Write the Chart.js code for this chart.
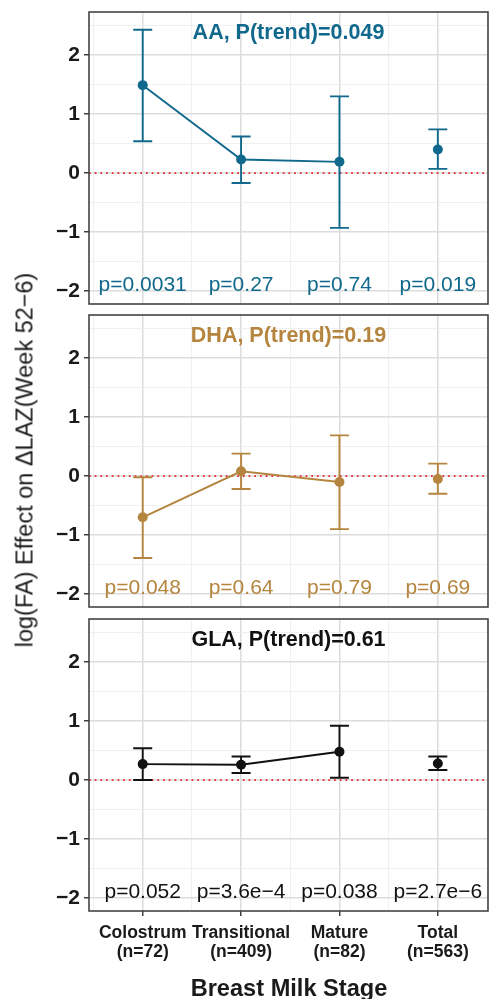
<!DOCTYPE html>
<html>
<head>
<meta charset="utf-8">
<script src="https://cdn.jsdelivr.net/npm/chart.js@4"></script>
<style>
  body { margin: 0; background: #fff; width: 489px; height: 999px; overflow: hidden; position: relative; font-family: "Liberation Sans", Arial, Helvetica, sans-serif; }
  canvas { position: absolute; left: 0; }
  .ytitle { position: absolute; left: 25px; top: 460px; transform: translate(-50%, -50%) rotate(-90deg); white-space: nowrap; font-size: 23.5px; color: #1a1a1a; }
  .xtitle { position: absolute; left: 289px; top: 988px; transform: translate(-50%, -50%); white-space: nowrap; font-size: 23.6px; font-weight: bold; color: #1a1a1a; }
</style>
</head>
<body>
<canvas id="p1" width="489" height="306" style="top:0px"></canvas>
<canvas id="p2" width="489" height="304" style="top:305px"></canvas>
<canvas id="p3" width="489" height="390" style="top:609px"></canvas>
<div class="ytitle">log(FA) Effect on ΔLAZ(Week 52−6)</div>
<div class="xtitle">Breast Milk Stage</div>
<script>
// categories and tick labels
const stages = ['Colostrum', 'Transitional', 'Mature', 'Total'];
const stageN = ['(n=72)', '(n=409)', '(n=82)', '(n=563)'];
const yTicks = [-2, -1, 0, 1, 2];

// AA
const aaEst = [1.49, 0.23, 0.19, 0.40];
const aaLow = [0.54, -0.17, -0.93, 0.07];
const aaHigh = [2.43, 0.62, 1.30, 0.74];
const aaP = ['p=0.0031', 'p=0.27', 'p=0.74', 'p=0.019'];

// DHA
const dhaEst = [-0.70, 0.08, -0.10, -0.05];
const dhaLow = [-1.39, -0.22, -0.90, -0.30];
const dhaHigh = [-0.02, 0.38, 0.69, 0.21];
const dhaP = ['p=0.048', 'p=0.64', 'p=0.79', 'p=0.69'];

// GLA
const glaEst = [0.27, 0.26, 0.48, 0.28];
const glaLow = [0.00, 0.12, 0.04, 0.17];
const glaHigh = [0.54, 0.40, 0.92, 0.40];
const glaP = ['p=0.052', 'p=3.6e\u22124', 'p=0.038', 'p=2.7e\u22126'];

const FONT = '"Liberation Sans", Arial, Helvetica, sans-serif';

// error bars, zero line, border and panel texts
const panelPlugin = {
    id: 'panel',
    beforeDatasetsDraw(chart) {
        const o = chart.options.plugins.panel;
        const { ctx, chartArea: a, scales: { x, y } } = chart;
        ctx.save();
        // dotted zero line
        ctx.strokeStyle = '#e8202a';
        ctx.lineWidth = 1.7;
        ctx.setLineDash([1.7, 4]);
        ctx.beginPath();
        ctx.moveTo(a.left, y.getPixelForValue(0));
        ctx.lineTo(a.right, y.getPixelForValue(0));
        ctx.stroke();
        ctx.setLineDash([]);
        // error bars
        ctx.strokeStyle = o.color;
        ctx.lineWidth = 1.9;
        for (let i = 0; i < stages.length; i++) {
            const px = x.getPixelForValue(i + 1);
            const lo = y.getPixelForValue(o.low[i]);
            const hi = y.getPixelForValue(o.high[i]);
            ctx.beginPath();
            ctx.moveTo(px, lo); ctx.lineTo(px, hi);
            ctx.moveTo(px - 9.5, lo); ctx.lineTo(px + 9.5, lo);
            ctx.moveTo(px - 9.5, hi); ctx.lineTo(px + 9.5, hi);
            ctx.stroke();
        }
        ctx.restore();
    },
    afterDraw(chart) {
        const o = chart.options.plugins.panel;
        const { ctx, chartArea: a, scales: { x, y } } = chart;
        ctx.save();
        ctx.strokeStyle = '#444';
        ctx.lineWidth = 1.6;
        ctx.strokeRect(a.left, a.top, a.right - a.left, a.bottom - a.top);
        ctx.fillStyle = o.color;
        ctx.textAlign = 'center';
        ctx.textBaseline = 'middle';
        ctx.font = 'bold 21.5px ' + FONT;
        ctx.fillText(o.title, (a.left + a.right) / 2, y.getPixelForValue(2.37));
        ctx.font = '21px ' + FONT;
        for (let i = 0; i < stages.length; i++) {
            ctx.fillText(o.p[i], x.getPixelForValue(i + 1), y.getPixelForValue(-1.9));
        }
        ctx.restore();
    }
};

function minus(v) {
    return v < 0 ? '\u2212' + (-v) : String(v);
}

function isMajor(c) {
    return c.tick && Number.isInteger(c.tick.value);
}

function makePanel(id, color, title, est, low, high, p, bottom) {
    const ticksY = [];
    for (let v = -2; v <= 2.5; v += 0.5) ticksY.push(v);
    return new Chart(document.getElementById(id), {
        type: 'scatter',
        data: {
            datasets: [{
                data: [0, 1, 2].map(i => ({ x: i + 1, y: est[i] })),
                showLine: true,
                borderColor: color,
                backgroundColor: color,
                borderWidth: 1.9,
                pointRadius: 5,
                pointBorderWidth: 0
            }, {
                data: [{ x: 4, y: est[3] }],
                showLine: false,
                backgroundColor: color,
                borderColor: color,
                pointRadius: 5,
                pointBorderWidth: 0
            }]
        },
        options: {
            responsive: false,
            animation: false,
            devicePixelRatio: 1,
            layout: {
                autoPadding: false,
                padding: { top: bottom ? 10 : (id === 'p1' ? 12 : 10), bottom: bottom ? 0 : 2, left: 0, right: 1 }
            },
            plugins: {
                legend: { display: false },
                tooltip: { enabled: false },
                panel: { color, title, low, high, p }
            },
            scales: {
                x: {
                    type: 'linear',
                    min: 0.454,
                    max: 4.51,
                    afterBuildTicks: s => { s.ticks = [0.5, 1, 1.5, 2, 2.5, 3, 3.5, 4, 4.5].map(v => ({ value: v })); },
                    afterFit: s => {
                        s.height = bottom ? 88 : 0;
                        s.paddingLeft = 0; s.paddingRight = 0;
                    },
                    border: { display: false },
                    grid: {
                        drawTicks: bottom,
                        tickLength: 5,
                        color: c => isMajor(c) ? '#dcdcdc' : '#ececec',
                        lineWidth: c => isMajor(c) ? 1.5 : 0.8,
                        tickColor: c => isMajor(c) ? '#333' : 'rgba(0,0,0,0)',
                        tickWidth: 1.4
                    },
                    ticks: {
                        display: bottom,
                        autoSkip: false,
                        maxRotation: 0,
                        padding: 7,
                        color: '#1a1a1a',
                        font: { family: FONT, size: 17.5, weight: 'bold', lineHeight: 1.12 },
                        callback: v => Number.isInteger(v) ? [stages[v - 1], stageN[v - 1]] : ''
                    }
                },
                y: {
                    min: -2.22,
                    max: 2.73,
                    afterBuildTicks: s => { s.ticks = ticksY.map(v => ({ value: v })); },
                    afterFit: s => {
                        s.width = 89;
                        s.paddingTop = 0; s.paddingBottom = 0;
                    },
                    border: { display: false },
                    grid: {
                        tickLength: 5,
                        color: c => isMajor(c) ? '#dcdcdc' : '#ececec',
                        lineWidth: c => isMajor(c) ? 1.5 : 0.8,
                        tickColor: c => (c.tick && yTicks.includes(c.tick.value)) ? '#333' : 'rgba(0,0,0,0)',
                        tickWidth: 1.4
                    },
                    ticks: {
                        autoSkip: false,
                        padding: 4,
                        color: '#1a1a1a',
                        font: { family: FONT, size: 21, weight: 'bold' },
                        callback: v => yTicks.includes(v) ? minus(v) : ''
                    }
                }
            }
        },
        plugins: [panelPlugin]
    });
}

makePanel('p1', '#10698c', 'AA, P(trend)=0.049', aaEst, aaLow, aaHigh, aaP, false);
makePanel('p2', '#b5853f', 'DHA, P(trend)=0.19', dhaEst, dhaLow, dhaHigh, dhaP, false);
makePanel('p3', '#111111', 'GLA, P(trend)=0.61', glaEst, glaLow, glaHigh, glaP, true);
</script>
</body>
</html>
